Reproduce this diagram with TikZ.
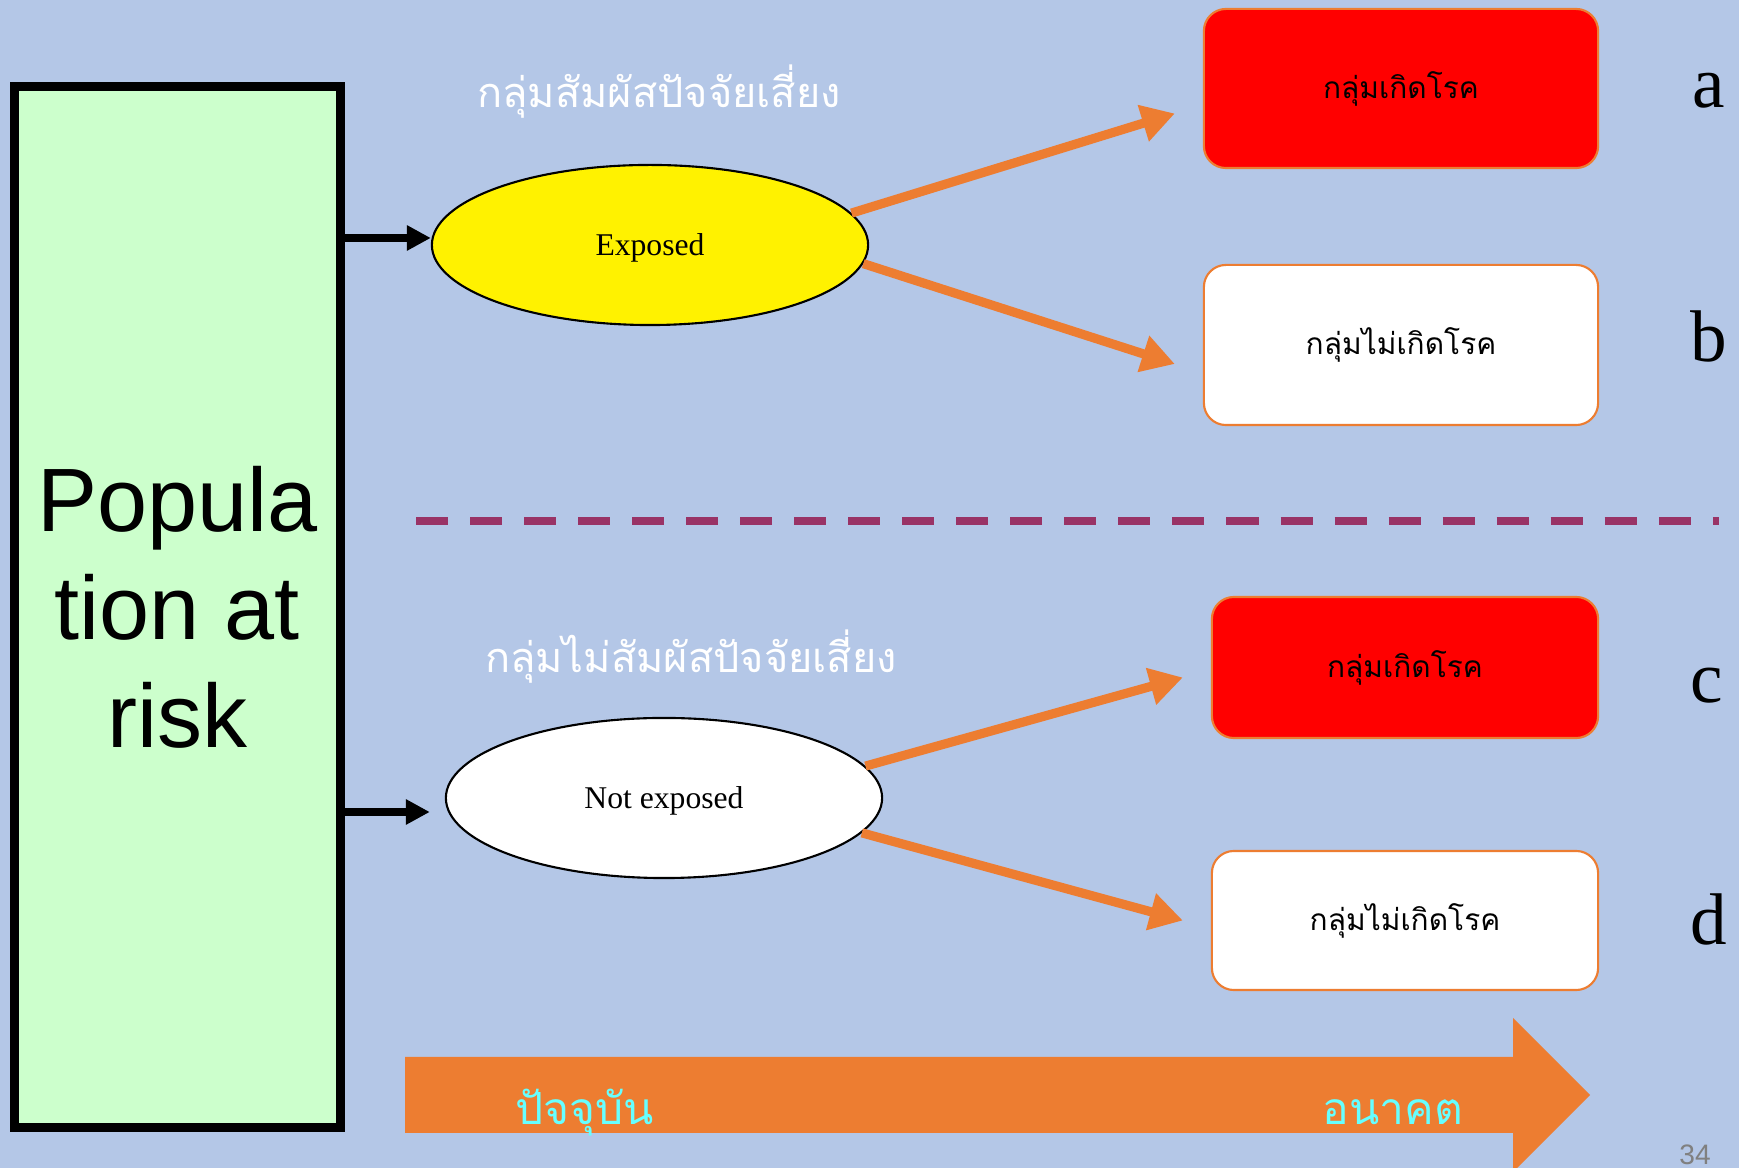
\documentclass[tikz,border=0pt]{standalone}
\usepackage{fontspec}
\setmainfont{Liberation Serif}
\newfontfamily\thaifont[Script=Thai]{Loma}
\newfontfamily\arialfont{Liberation Sans}
\usetikzlibrary{arrows.meta,positioning,shapes.geometric}

\definecolor{slidebg}{HTML}{B4C7E7}
\definecolor{popgreen}{HTML}{CCFFCC}
\definecolor{accent}{HTML}{ED7D31}
\definecolor{divider}{HTML}{993366}
\definecolor{timecyan}{HTML}{66FFFF}

\tikzset{
  popbox/.style={
    draw, fill=popgreen, line width=2.6pt,
    minimum width=3.26cm, minimum height=10.4cm,
    align=center, font=\arialfont\fontsize{25.6}{30.7}\selectfont
  },
  expo/.style={
    ellipse, draw, line width=0.6pt, inner sep=0pt, text depth=0pt,
    minimum width=4.36cm, minimum height=1.6cm,
    font=\fontsize{9}{11}\selectfont
  },
  outcome/.style={
    draw=accent, line width=0.6pt, rounded corners=0.22cm,
    minimum width=3.94cm, minimum height=1.59cm,
    font=\thaifont\fontsize{8.5}{10}\selectfont
  },
  heading/.style={text=white, font=\thaifont\fontsize{11.8}{14}\selectfont},
  tag/.style={anchor=base, font=\fontsize{20.8}{24}\selectfont},
  timetext/.style={anchor=base, text=timecyan, font=\thaifont\fontsize{12.6}{15}\selectfont},
  feed/.style={-{Triangle[length=0.24cm,width=0.24cm]}, line width=2.3pt},
  flow/.style={-{Triangle[length=0.33cm,width=0.36cm]}, draw=accent, line width=2.6pt}
}

\begin{document}
\begin{tikzpicture}[x=0.01cm, y=-0.01cm]
\clip (0,0) rectangle (1739,1168);
\fill[slidebg] (0,0) rectangle (1739,1168);

% ---------- Population ----------
\node[popbox] (pop) at (177.5,607) {Popula\\tion at\\risk};

% ---------- Exposure groups ----------
\node[heading] (exphead) at (659,92) {กลุ่มสัมผัสปัจจัยเสี่ยง};
\node[expo, fill=yellow] (exp) at (650,245) {Exposed};

\node[heading] (nexphead) at (691,657) {กลุ่มไม่สัมผัสปัจจัยเสี่ยง};
\node[expo, fill=white] (nexp) at (664,798) {Not exposed};

\draw[feed] ([yshift=0.07cm]pop.east |- exp.west) -- ([yshift=0.07cm]exp.west);
\draw[feed] ([yshift=-0.14cm]pop.east |- nexp.west) -- ([xshift=-0.15cm,yshift=-0.14cm]nexp.west);

% ---------- Outcomes ----------
\node[outcome, fill=red] (boxa) at (1401,88.5) {กลุ่มเกิดโรค};
\node[outcome, fill=white, minimum height=1.6cm] (boxb) at (1401,345) {กลุ่มไม่เกิดโรค};
\node[outcome, fill=red, minimum width=3.86cm, minimum height=1.41cm] (boxc) at (1405,667.5) {กลุ่มเกิดโรค};
\node[outcome, fill=white, minimum width=3.86cm, minimum height=1.39cm] (boxd) at (1405,920.5) {กลุ่มไม่เกิดโรค};

\draw[flow] (exp.9)   -- ([xshift=-0.28cm,yshift=-0.25cm]boxa.west);
\draw[flow] (exp.-5)  -- ([xshift=-0.28cm,yshift=-0.19cm]boxb.west);
\draw[flow] (nexp.9)  -- ([xshift=-0.28cm,yshift=-0.10cm]boxc.west);
\draw[flow] (nexp.-10) -- ([xshift=-0.28cm]boxd.west);

% ---------- Cell labels ----------
\node[tag] (taga) at (1709,108) {a};
\node[tag] (tagb) at (1709,362) {b};
\node[tag] (tagc) at (1707,703) {c};
\node[tag] (tagd) at (1709,945) {d};

% ---------- Divider ----------
\draw[divider, line width=2pt, dash pattern=on 0.32cm off 0.22cm] (416,521) -- (1719,521);

% ---------- Time arrow ----------
\fill[accent] (405,1057) -- (1513,1057) -- (1513,1018) -- (1590,1095)
  -- (1513,1172) -- (1513,1133) -- (405,1133) -- cycle;
\node[timetext] (now) at (585,1125) {ปัจจุบัน};
\node[timetext] (future) at (1393,1125) {อนาคต};

\node[anchor=base, text=gray, font=\arialfont\fontsize{8}{9}\selectfont] (pageno) at (1695,1165) {34};

\end{tikzpicture}
\end{document}
